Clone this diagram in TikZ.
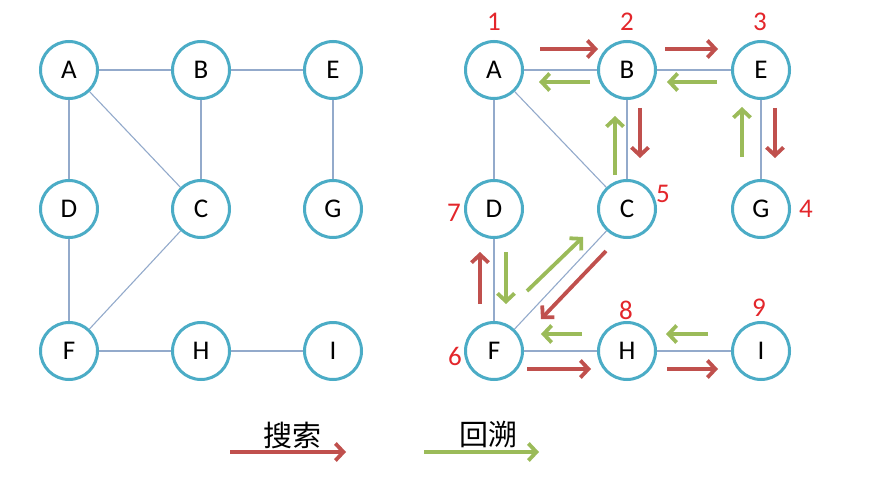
\documentclass[tikz,border=0pt]{standalone}
\usepackage{fontspec}
\setmainfont{Carlito}
\newfontfamily\cjk{Noto Sans CJK SC}
\usetikzlibrary{arrows.meta}
\definecolor{ringC}{HTML}{4BACC6}
\definecolor{edgeC}{HTML}{93AACB}
\definecolor{searchC}{HTML}{C0504D}
\definecolor{backC}{HTML}{9BBB59}
\definecolor{numC}{HTML}{E3262B}

\tikzset{
  vertex/.style={circle,draw=ringC,line width=3pt,fill=white,
                 minimum size=57pt,inner sep=0pt,font=\fontsize{27}{29}\selectfont},
  edge/.style={edgeC,line width=1.1pt},
  search/.style={searchC,line width=3.8pt,-{Straight Barb[length=8pt,width=17pt]}},
  back/.style={backC,line width=3.8pt,-{Straight Barb[length=8pt,width=17pt]}},
  num/.style={numC,font=\fontsize{27}{29}\selectfont},
}

\begin{document}
\begin{tikzpicture}[x=1pt,y=-1pt]
  \useasboundingbox (0,0) rectangle (882,492);
  % left graph
  \foreach \n/\x/\y in {A/69/70,B/201/70,E/333/70,D/69/209,C/201/209,
                        G/333/209,F/69/351,H/201/351,I/333/351}
    \node[vertex] (l\n) at (\x,\y) {\n};
  \foreach \a/\b in {A/B,B/E,A/D,A/C,B/C,E/G,D/F,C/F,F/H,H/I}
    \draw[edge] (l\a) -- (l\b);
  % right graph
  \foreach \n/\x/\y in {A/494/70,B/627/70,E/761/70,D/494/209,C/627/209,
                        G/761/209,F/494/351,H/627/351,I/761/351}
    \node[vertex] (r\n) at (\x,\y) {\n};
  \foreach \a/\b in {A/B,B/E,A/D,A/C,B/C,E/G,D/F,C/F,F/H,H/I}
    \draw[edge] (r\a) -- (r\b);
  % visiting order
  \node[num] (n1) at (494,22) {1};
  \node[num] (n2) at (627,22) {2};
  \node[num] (n3) at (760,22) {3};
  \node[num] (n4) at (806,209) {4};
  \node[num] (n5) at (663,194) {5};
  \node[num] (n6) at (455,356) {6};
  \node[num] (n7) at (454,213) {7};
  \node[num] (n8) at (626,310) {8};
  \node[num] (n9) at (759,308) {9};
  % search steps
  \draw[search] (540,49) -- (598,49);
  \draw[search] (665,49) -- (718,49);
  \draw[search] (775,108) -- (775,158);
  \draw[search] (640,108) -- (640,158);
  \draw[search] (606,251) -- (541,319);
  \draw[search] (480,304) -- (480,252);
  \draw[search] (527,369) -- (591,369);
  \draw[search] (667,369) -- (718,369);
  % backtracking steps
  \draw[back] (742,157) -- (742,107);
  \draw[back] (717,82) -- (667,82);
  \draw[back] (590,82) -- (539,82);
  \draw[back] (615,175) -- (615,116);
  \draw[back] (506,252) -- (506,304);
  \draw[back] (527,291) -- (583,237);
  \draw[back] (708,334) -- (666,334);
  \draw[back] (582,334) -- (541,334);
  % legend
  \coordinate (sL) at (230,452);
  \coordinate (sR) at (346,452);
  \coordinate (bL) at (424,452);
  \coordinate (bR) at (539,452);
  \draw[search] (sL) -- (sR);
  \draw[back] (bL) -- (bR);
  \node[font=\cjk\fontsize{29}{31}\selectfont] (searchTxt) at (292,435) {搜索};
  \node[font=\cjk\fontsize{29}{31}\selectfont] (backTxt) at (488,435) {回溯};
\end{tikzpicture}
\end{document}
